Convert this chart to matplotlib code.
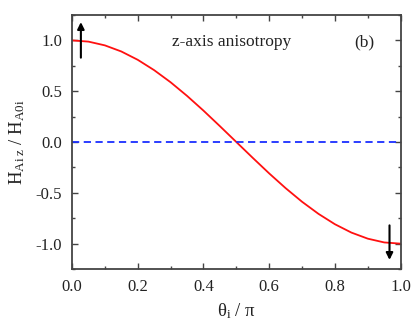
import matplotlib
matplotlib.use("Agg")
import matplotlib.pyplot as plt
from matplotlib.ticker import MultipleLocator

# values
theta = [0.0, 0.05, 0.10, 0.15, 0.20, 0.25, 0.30, 0.35, 0.40, 0.45, 0.50,
         0.55, 0.60, 0.65, 0.70, 0.75, 0.80, 0.85, 0.90, 0.95, 1.0]
h_ratio = [1.0, 0.988, 0.951, 0.891, 0.809, 0.707, 0.588, 0.454, 0.309, 0.156, 0.0,
           -0.156, -0.309, -0.454, -0.588, -0.707, -0.809, -0.891, -0.951, -0.988, -1.0]
zero_x = [0.0, 1.0]
zero_y = [0.0, 0.0]

# arrows: (x, tail y, head y)
arrow_up = (0.027, 0.83, 1.18)
arrow_down = (0.966, -0.82, -1.16)

x_ticks = [0.0, 0.2, 0.4, 0.6, 0.8, 1.0]
y_ticks = [-1.0, -0.5, 0.0, 0.5, 1.0]

plt.rcParams["font.family"] = ["Liberation Serif", "DejaVu Serif"]
plt.rcParams["mathtext.fontset"] = "custom"
plt.rcParams["mathtext.rm"] = "Liberation Serif"
plt.rcParams["mathtext.it"] = "Liberation Serif:italic"

fig = plt.figure(figsize=(4.15, 3.33), dpi=100)
ax = fig.add_axes([0.1735, 0.192, 0.792, 0.763])

ax.plot(theta, h_ratio, color="#ff1010", lw=1.3)
ax.plot(zero_x, zero_y, color="#1a2eff", lw=1.3, ls=(0, (4, 2.5)))

for x, y0, y1 in (arrow_up, arrow_down):
    ax.annotate("", xy=(x, y1), xytext=(x, y0),
                arrowprops=dict(arrowstyle="-|>", color="black", lw=1.5,
                                mutation_scale=10, shrinkA=0, shrinkB=0))

ax.text(0.305, 0.98, "z-axis anisotropy", fontsize=12.5, color="#222222",
        va="center", ha="left")
ax.text(0.89, 0.98, "(b)", fontsize=12.5, color="#222222", va="center", ha="center")

ax.set_xlim(0, 1.0)
ax.set_ylim(-1.25, 1.25)
ax.set_xticks(x_ticks)
ax.set_yticks(y_ticks)
ax.xaxis.set_minor_locator(MultipleLocator(0.1))
ax.yaxis.set_minor_locator(MultipleLocator(0.25))
ax.set_xticklabels([f"{v:.1f}" for v in x_ticks])
ax.set_yticklabels([f"{v:.1f}" for v in y_ticks])

ax.tick_params(which="both", direction="in", top=True, right=True,
               color="#444444", labelsize=12, labelcolor="#222222")
ax.tick_params(which="major", length=4, width=1)
ax.tick_params(which="minor", length=2.5, width=1)
ax.tick_params(axis="x", pad=7)
ax.tick_params(axis="y", pad=7)
for s in ax.spines.values():
    s.set_color("#444444")
    s.set_linewidth(1.3)

ax.set_xlabel(r"$\mathregular{\theta_i\ /\ \pi}$", fontsize=13.5, color="#222222", labelpad=5)
ax.set_ylabel(r"$\mathregular{H_{Ai\ z}\ /\ H_{A0i}}$", fontsize=13.5, color="#222222", labelpad=6)

fig.savefig("out.png", dpi=100)
